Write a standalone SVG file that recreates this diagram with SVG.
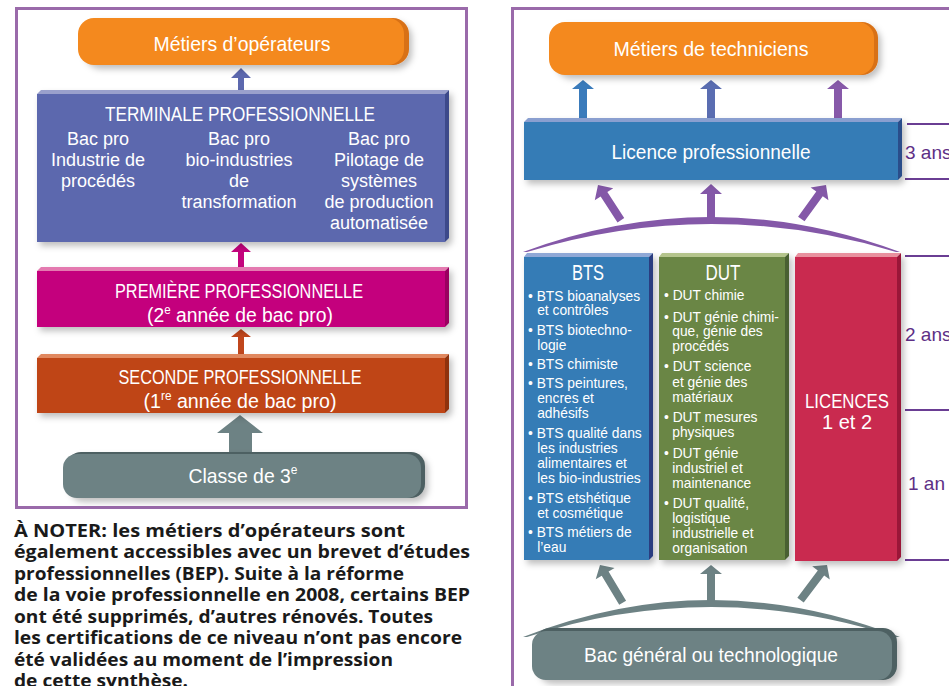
<svg xmlns="http://www.w3.org/2000/svg" width="949" height="686" viewBox="0 0 949 686">
<style>
.frame{fill:none;stroke:#9a6aaa;stroke-width:3}
.t{font-family:"Liberation Sans",Arial,sans-serif;fill:#ffffff}
.c{text-anchor:middle}
.h21{font-size:21px}
.h20{font-size:20px}
.h18{font-size:18px}
.li{font-size:15px}
.ttl{font-size:22px}
.side{font-family:"Liberation Sans",Arial,sans-serif;font-size:19px;fill:#5e2f86}
.note{font-family:"Open Sans","Liberation Sans",sans-serif;font-weight:bold;font-size:17.5px;fill:#1a1a1a}
.yl{stroke:#6a3d93;stroke-width:2}
</style>
<defs>
<filter id="sh" x="-10%" y="-10%" width="130%" height="140%">
<feDropShadow dx="3" dy="4" stdDeviation="3" flood-color="#000" flood-opacity="0.25"/>
</filter>
</defs>

<rect class="frame" x="16.5" y="8.5" width="450" height="499"/>
<rect class="frame" x="512.5" y="8.5" width="460" height="700"/>

<g id="connectors">
<polygon fill="#5c68ae" points="241,68 251,78 244,78 244,93 238,93 238,78 231,78"/>
<polygon fill="#c4037d" points="241,243 251,252 244,252 244,270 238,270 238,252 231,252"/>
<polygon fill="#c0461c" points="241,329 251,337 244,337 244,357 238,357 238,337 231,337"/>
<polygon fill="#6d8284" points="240,415 263,433 252,433 252,453 229,453 229,433 217,433"/>
<polygon fill="#3a7bbb" points="583,80 594,89 587,89 587,121 579,121 579,89 572,89"/>
<polygon fill="#5a6db1" points="711,80 722,89 715,89 715,121 707,121 707,89 700,89"/>
<polygon fill="#8759a9" points="838,80 849,89 842,89 842,121 834,121 834,89 827,89"/>
<path fill="#8458a8" d="M523,252 Q711,182 900,252 L896,252 Q711,196 527,252 Z"/>
<g fill="#8458a8">
<g transform="translate(598,185) rotate(-33)"><polygon points="0,0 11,11 4,11 4,42 -4,42 -4,11 -11,11"/></g>
<polygon points="711,184 722,194 715,194 715,220 707,220 707,194 700,194"/>
<g transform="translate(826,185) rotate(36)"><polygon points="0,0 11,11 4,11 4,42 -4,42 -4,11 -11,11"/></g>
</g>
<path fill="#6d8284" d="M523,637 Q711,563 900,637 L896,637 Q711,577 527,637 Z"/>
<g fill="#6d8284">
<g transform="translate(600,565) rotate(-31)"><polygon points="0,0 11,10 4,10 4,44 -4,44 -4,10 -11,10"/></g>
<polygon points="711,565 722,574 715,574 715,602 707,602 707,574 700,574"/>
<g transform="translate(827,565) rotate(37)"><polygon points="0,0 11,10 4,10 4,44 -4,44 -4,10 -11,10"/></g>
</g>
<line class="yl" x1="907" y1="124" x2="949" y2="124"/>
<line class="yl" x1="905" y1="179" x2="949" y2="179"/>
<line class="yl" x1="905" y1="256" x2="949" y2="256"/>
<line class="yl" x1="905" y1="410" x2="949" y2="410"/>
<line class="yl" x1="905" y1="560" x2="949" y2="560"/>
</g>

<g id="metiers-operateurs">
<rect x="82" y="18" width="327" height="47" rx="16" fill="#d87118" filter="url(#sh)"/>
<rect x="78" y="18" width="326" height="47" rx="16" fill="#f4891e"/>
<text class="t c h21" x="242" y="51" textLength="177" lengthAdjust="spacingAndGlyphs">Métiers d’opérateurs</text>
</g>

<g id="terminale">
<g filter="url(#sh)">
<rect x="37" y="94" width="408" height="148" fill="#5c68ae"/>
<polygon points="37,94 41,90 449,90 445,94" fill="#9aa0cc"/>
<polygon points="445,94 449,90 449,238 445,242" fill="#3e4a8a"/>
</g>
<text class="t c h21" x="240" y="121" textLength="270" lengthAdjust="spacingAndGlyphs">TERMINALE PROFESSIONNELLE</text>
<text class="t c h18" x="98" y="145">Bac pro</text>
<text class="t c h18" x="98" y="166">Industrie de</text>
<text class="t c h18" x="98" y="187">procédés</text>
<text class="t c h18" x="239" y="145">Bac pro</text>
<text class="t c h18" x="239" y="166">bio-industries</text>
<text class="t c h18" x="239" y="187">de</text>
<text class="t c h18" x="239" y="208">transformation</text>
<text class="t c h18" x="379" y="145">Bac pro</text>
<text class="t c h18" x="379" y="166">Pilotage de</text>
<text class="t c h18" x="379" y="187">systèmes</text>
<text class="t c h18" x="379" y="208">de production</text>
<text class="t c h18" x="379" y="229">automatisée</text>
</g>

<g id="premiere">
<g filter="url(#sh)">
<rect x="37" y="271" width="408" height="56" fill="#c4037d"/>
<polygon points="37,271 41,267 449,267 445,271" fill="#e47ab0"/>
<polygon points="445,271 449,267 449,323 445,327" fill="#9a0060"/>
</g>
<text class="t c h20" x="239" y="298" textLength="248" lengthAdjust="spacingAndGlyphs">PREMIÈRE PROFESSIONNELLE</text>
<text class="t c h20" x="240" y="322" textLength="186" lengthAdjust="spacingAndGlyphs">(2<tspan font-size="12" dy="-8">e</tspan><tspan dy="8"> année de bac pro)</tspan></text>
</g>

<g id="seconde">
<g filter="url(#sh)">
<rect x="37" y="358" width="408" height="55" fill="#bf4419"/>
<polygon points="37,358 41,354 449,354 445,358" fill="#e0885e"/>
<polygon points="445,358 449,354 449,409 445,413" fill="#8f3010"/>
</g>
<text class="t c h20" x="240" y="384" textLength="243" lengthAdjust="spacingAndGlyphs">SECONDE PROFESSIONNELLE</text>
<text class="t c h20" x="240" y="408" textLength="193" lengthAdjust="spacingAndGlyphs">(1<tspan font-size="12" dy="-8">re</tspan><tspan dy="8"> année de bac pro)</tspan></text>
</g>

<g id="classe3">
<rect x="67" y="452" width="358" height="46" rx="14" fill="#4e6062" filter="url(#sh)"/>
<rect x="63" y="454" width="358" height="44" rx="14" fill="#6d8284"/>
<text class="t c h21" x="243" y="483" textLength="109" lengthAdjust="spacingAndGlyphs">Classe de 3<tspan font-size="13" dy="-9">e</tspan></text>
</g>

<g id="note">
<text class="note" x="14" y="537" textLength="391" lengthAdjust="spacingAndGlyphs">À NOTER: les métiers d’opérateurs sont</text>
<text class="note" x="14" y="558" textLength="456" lengthAdjust="spacingAndGlyphs">également accessibles avec un brevet d’études</text>
<text class="note" x="14" y="580" textLength="390" lengthAdjust="spacingAndGlyphs">professionnelles (BEP). Suite à la réforme</text>
<text class="note" x="14" y="601" textLength="456" lengthAdjust="spacingAndGlyphs">de la voie professionnelle en 2008, certains BEP</text>
<text class="note" x="14" y="623" textLength="419" lengthAdjust="spacingAndGlyphs">ont été supprimés, d’autres rénovés. Toutes</text>
<text class="note" x="14" y="644" textLength="448" lengthAdjust="spacingAndGlyphs">les certifications de ce niveau n’ont pas encore</text>
<text class="note" x="14" y="666" textLength="379" lengthAdjust="spacingAndGlyphs">été validées au moment de l’impression</text>
<text class="note" x="14" y="687" textLength="174" lengthAdjust="spacingAndGlyphs">de cette synthèse.</text>
</g>

<g id="metiers-techniciens">
<rect x="553" y="22" width="325" height="53" rx="16" fill="#d87118" filter="url(#sh)"/>
<rect x="549" y="22" width="325" height="53" rx="16" fill="#f4891e"/>
<text class="t c h21" x="711" y="56" textLength="195" lengthAdjust="spacingAndGlyphs">Métiers de techniciens</text>
</g>

<g id="licence-pro">
<g filter="url(#sh)">
<rect x="524" y="122" width="374" height="58" fill="#367bb6"/>
<polygon points="524,122 528,118 902,118 898,122" fill="#8a9fd0"/>
<polygon points="898,122 902,118 902,176 898,180" fill="#2a4e8a"/>
</g>
<text class="t c h21" x="711" y="159" textLength="199" lengthAdjust="spacingAndGlyphs">Licence professionnelle</text>
</g>
<text class="side" x="905" y="159">3 ans</text>
<text class="side" x="905" y="341">2 ans</text>
<text class="side" x="908" y="490">1 an</text>

<g id="bts">
<g filter="url(#sh)">
<rect x="524" y="257" width="125" height="303" fill="#367bb6"/>
<polygon points="524,257 527,253 653,253 649,257" fill="#8fa8d6"/>
<polygon points="649,257 653,253 653,556 649,560" fill="#2a3e80"/>
</g>
<text class="t c ttl" x="588" y="280" textLength="32" lengthAdjust="spacingAndGlyphs">BTS</text>
<g class="t li" transform="translate(528 0) scale(0.92 1) translate(-528 0)">
<text x="528" y="301">• BTS bioanalyses</text>
<text x="538" y="315">et contrôles</text>
<text x="528" y="335">• BTS biotechno-</text>
<text x="538" y="350">logie</text>
<text x="528" y="369">• BTS chimiste</text>
<text x="528" y="388">• BTS peintures,</text>
<text x="538" y="403">encres et</text>
<text x="538" y="418">adhésifs</text>
<text x="528" y="438">• BTS qualité dans</text>
<text x="538" y="453">les industries</text>
<text x="538" y="468">alimentaires et</text>
<text x="538" y="483">les bio-industries</text>
<text x="528" y="503">• BTS etshétique</text>
<text x="538" y="518">et cosmétique</text>
<text x="528" y="537">• BTS métiers de</text>
<text x="538" y="552">l’eau</text>
</g>
</g>

<g id="dut">
<g filter="url(#sh)">
<rect x="659" y="257" width="126" height="303" fill="#6a8644"/>
<polygon points="659,257 662,253 789,253 785,257" fill="#b4c48c"/>
<polygon points="785,257 789,253 789,556 785,560" fill="#4a6030"/>
</g>
<text class="t c ttl" x="723" y="280" textLength="35" lengthAdjust="spacingAndGlyphs">DUT</text>
<g class="t li" transform="translate(664 0) scale(0.92 1) translate(-664 0)">
<text x="664" y="300">• DUT chimie</text>
<text x="664" y="322">• DUT génie chimi-</text>
<text x="673" y="336">que, génie des</text>
<text x="673" y="351">procédés</text>
<text x="664" y="371">• DUT science</text>
<text x="673" y="387">et génie des</text>
<text x="673" y="402">matériaux</text>
<text x="664" y="422">• DUT mesures</text>
<text x="673" y="437">physiques</text>
<text x="664" y="458">• DUT génie</text>
<text x="673" y="473">industriel et</text>
<text x="673" y="488">maintenance</text>
<text x="664" y="508">• DUT qualité,</text>
<text x="673" y="523">logistique</text>
<text x="673" y="538">industrielle et</text>
<text x="673" y="553">organisation</text>
</g>
</g>

<g id="licences">
<g filter="url(#sh)">
<rect x="795" y="257" width="102" height="304" fill="#c9294f"/>
<polygon points="795,257 798,253 901,253 897,257" fill="#e8909e"/>
<polygon points="897,257 901,253 901,557 897,561" fill="#9a1838"/>
</g>
<text class="t c h20" x="847" y="408" textLength="84" lengthAdjust="spacingAndGlyphs">LICENCES</text>
<text class="t c h20" x="847" y="429">1 et 2</text>
</g>

<g id="bac-general">
<rect x="536" y="628" width="361" height="52" rx="14" fill="#4e6062" filter="url(#sh)"/>
<rect x="532" y="631" width="360" height="49" rx="14" fill="#6d8284"/>
<text class="t c h21" x="711" y="662" textLength="254" lengthAdjust="spacingAndGlyphs">Bac général ou technologique</text>
</g>
</svg>
